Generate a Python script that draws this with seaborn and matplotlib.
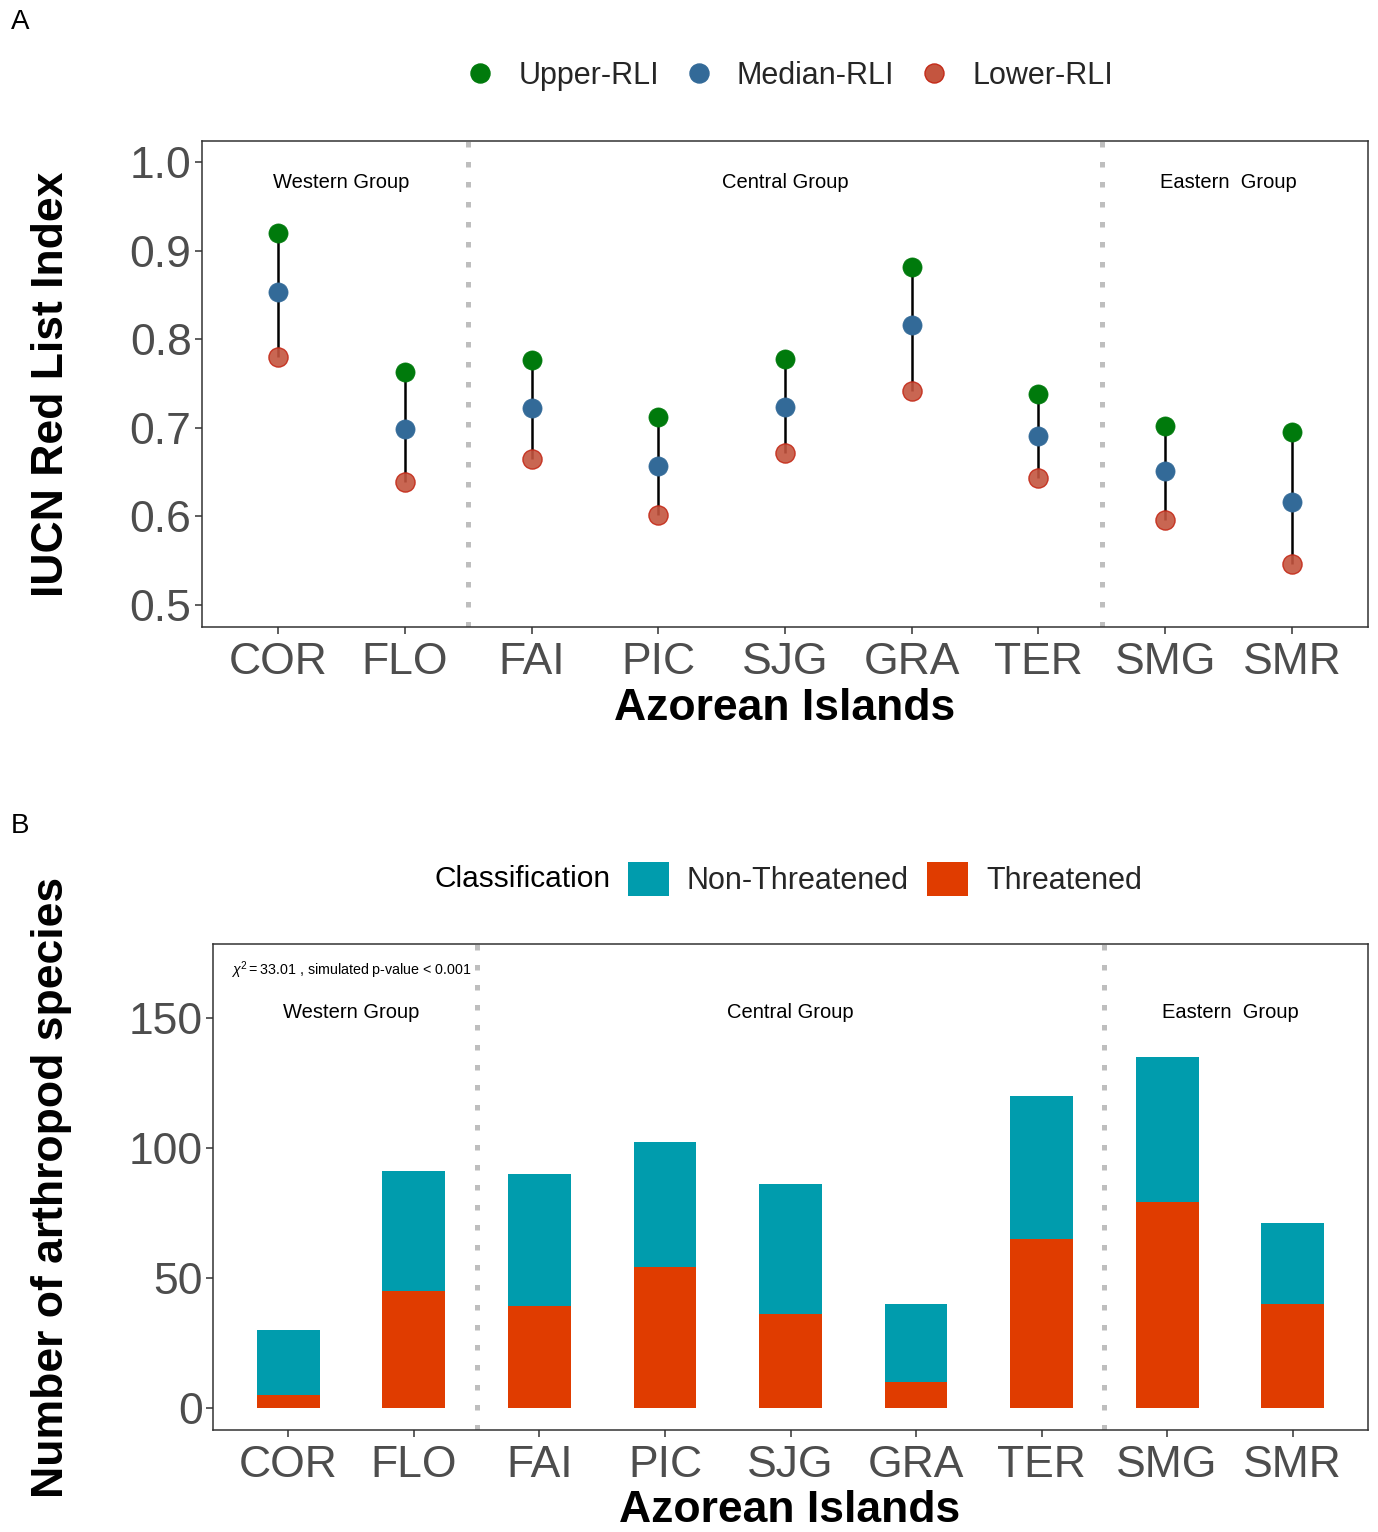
import numpy as np
import pandas as pd
import matplotlib
matplotlib.use("Agg")
import matplotlib.pyplot as plt
import seaborn as sns
from matplotlib.lines import Line2D
from matplotlib.patches import Patch

# ---------------- data ----------------
islands = ["COR", "FLO", "FAI", "PIC", "SJG", "GRA", "TER", "SMG", "SMR"]
upper_rli = [0.920, 0.763, 0.777, 0.712, 0.778, 0.882, 0.738, 0.702, 0.695]
median_rli = [0.853, 0.699, 0.723, 0.657, 0.724, 0.816, 0.691, 0.651, 0.616]
lower_rli = [0.780, 0.639, 0.665, 0.602, 0.672, 0.742, 0.643, 0.596, 0.546]

threatened = [5, 45, 39, 54, 36, 10, 65, 79, 40]
non_threatened = [25, 46, 51, 48, 50, 30, 55, 56, 31]

group_names = ["Western Group", "Central Group", "Eastern  Group"]
group_sizes = [2, 5, 2]

rli_yticks = [0.5, 0.6, 0.7, 0.8, 0.9, 1.0]
species_yticks = [0, 50, 100, 150]
chi_text = r"$\chi^2=$33.01 , simulated p-value < 0.001"

# ---------------- style ----------------
sns.set_theme(style="white")
plt.rcParams["font.family"] = ["Liberation Sans", "DejaVu Sans"]
plt.rcParams["mathtext.fontset"] = "custom"
plt.rcParams["mathtext.rm"] = "Liberation Sans"
plt.rcParams["mathtext.it"] = "Liberation Sans:italic"

GREEN = "#007A0C"
BLUE = "#336A98"
RED = "#C4553F"
RED_EDGE = "#C42A18"
TEAL = "#009CAD"
ORANGE = "#E03C00"
TICKCOL = "#4D4D4D"
SPINE = "#333333"

W, H = 1378, 1532
fig = plt.figure(figsize=(W / 100, H / 100), dpi=100)

pos = np.arange(len(islands))
# group boundaries / centers derived from group sizes
edges = np.cumsum([0] + group_sizes)
breaks = edges[1:-1] - 0.5
centers = [(edges[i] + edges[i + 1] - 1) / 2 for i in range(len(group_sizes))]

def style_axes(ax):
    for s in ax.spines.values():
        s.set_visible(True)
        s.set_color(SPINE)
        s.set_linewidth(1.1)
    ax.tick_params(axis="both", which="major", direction="out", length=5,
                   width=1.1, color=SPINE, labelcolor=TICKCOL, labelsize=32,
                   left=True, bottom=True)
    ax.tick_params(axis="x", pad=5.5)
    ax.tick_params(axis="y", pad=2.5)
    ax.grid(False)
    ax.set_xlabel("")
    ax.set_ylabel("")

# ---------------- panel A ----------------
axA = fig.add_axes([202 / W, 1 - 627.3 / H, (1368 - 202) / W, (627.3 - 140.7) / H])
dfA = pd.DataFrame({"pos": pos, "island": islands, "upper": upper_rli,
                    "median": median_rli, "lower": lower_rli})

axA.vlines(dfA["pos"], dfA["lower"], dfA["upper"], color="black", lw=1.8, zorder=2)
sns.scatterplot(data=dfA, x="pos", y="lower", color=RED, edgecolor=RED_EDGE,
                linewidth=1.0, s=190, alpha=0.9, ax=axA, zorder=3)
sns.scatterplot(data=dfA, x="pos", y="median", color=BLUE, edgecolor=BLUE,
                linewidth=0.5, s=190, ax=axA, zorder=4)
sns.scatterplot(data=dfA, x="pos", y="upper", color=GREEN, edgecolor=GREEN,
                linewidth=0.5, s=190, ax=axA, zorder=4)
for b in breaks:
    axA.axvline(b, color="#BEBEBE", lw=3.6, ls=(0, (1.1, 2.9)), zorder=1)
for c, name in zip(centers, group_names):
    axA.text(c, 0.977, name, ha="center", va="center", fontsize=14.5, color="black")

axA.set_xlim(-0.6, len(islands) - 0.4)
axA.set_ylim(0.4748, 1.0244)
axA.set_xticks(pos)
axA.set_xticklabels(islands)
axA.set_yticks(rli_yticks)
axA.set_yticklabels([f"{v:.1f}" for v in rli_yticks])
style_axes(axA)

fig.text(52 / W, 1 - 384 / H, "IUCN Red List Index", rotation=90, ha="center",
         va="center", fontsize=32, fontweight="bold", color="black")
fig.text(785 / W, 1 - 709 / H, "Azorean Islands", ha="center", va="center",
         fontsize=32, fontweight="bold", color="black")

legA = [Line2D([], [], marker="o", ls="", markersize=13.7, color=GREEN, markeredgecolor=GREEN),
        Line2D([], [], marker="o", ls="", markersize=13.7, color=BLUE, markeredgecolor=BLUE),
        Line2D([], [], marker="o", ls="", markersize=13.7, color=RED, markeredgecolor=RED_EDGE)]
fig.legend(legA, ["Upper-RLI", "Median-RLI", "Lower-RLI"], loc="center",
           bbox_to_anchor=(789 / W, 1 - 76 / H), ncol=3, frameon=False, fontsize=22,
           handlelength=1.0, handletextpad=0.75, columnspacing=0.8,
           borderpad=0, borderaxespad=0)

# ---------------- panel B ----------------
axB = fig.add_axes([213 / W, 1 - 1430 / H, (1368 - 213) / W, (1430 - 944) / H])
dfB = pd.DataFrame({"island": islands, "threatened": threatened,
                    "non_threatened": non_threatened})
dfB["total"] = dfB["threatened"] + dfB["non_threatened"]

sns.barplot(data=dfB, x="island", y="total", order=islands, color=TEAL,
            saturation=1, width=0.5, linewidth=0, ax=axB, zorder=2)
sns.barplot(data=dfB, x="island", y="threatened", order=islands, color=ORANGE,
            saturation=1, width=0.5, linewidth=0, ax=axB, zorder=3)
for b in breaks:
    axB.axvline(b, color="#BEBEBE", lw=3.6, ls=(0, (1.1, 2.9)), zorder=1)
for c, name in zip(centers, group_names):
    axB.text(c, 152.0, name, ha="center", va="center", fontsize=14.5, color="black")
axB.text(-0.46, 168.3, chi_text, ha="left", va="center", fontsize=10.3, color="black")

axB.set_xlim(-0.6, len(islands) - 0.4)
axB.set_ylim(-8.58, 178.3)
axB.set_yticks(species_yticks)
axB.set_yticklabels([str(v) for v in species_yticks])
style_axes(axB)

fig.text(52 / W, 1 - 1187 / H, "Number of arthropod species", rotation=90,
         ha="center", va="center", fontsize=32, fontweight="bold", color="black")
fig.text(790 / W, 1 - 1511 / H, "Azorean Islands", ha="center", va="center",
         fontsize=32, fontweight="bold", color="black")

fig.text(435 / W, 1 - 879 / H, "Classification", ha="left", va="center",
         fontsize=21.5, color="black")
legB = [Patch(facecolor=TEAL, edgecolor="none"), Patch(facecolor=ORANGE, edgecolor="none")]
fig.legend(legB, ["Non-Threatened", "Threatened"], loc="center",
           bbox_to_anchor=(885 / W, 1 - 879 / H), ncol=2, frameon=False, fontsize=22,
           handlelength=1.34, handleheight=1.34, handletextpad=0.6,
           columnspacing=0.6, borderpad=0, borderaxespad=0)

# panel letters
fig.text(20 / W, 1 - 22 / H, "A", ha="center", va="center", fontsize=20, color="black")
fig.text(20 / W, 1 - 826 / H, "B", ha="center", va="center", fontsize=20, color="black")

fig.savefig("out.png", dpi=100, facecolor="white")
